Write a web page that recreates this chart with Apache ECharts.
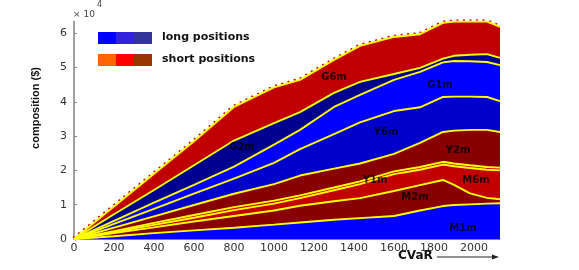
<!DOCTYPE html>
<html>
<head>
<meta charset="utf-8">
<script src="https://cdn.jsdelivr.net/npm/echarts@6/dist/echarts.min.js"></script>
<style>
html,body{margin:0;padding:0;background:#fff;}
#chart{width:579px;height:270px;}
</style>
</head>
<body>
<div id="chart"></div>
<script>
// CVaR sample points (x axis)
var cvar = [0, 200, 400, 600, 800, 1000, 1130, 1300, 1430, 1600, 1730, 1845, 1900, 1980, 2065, 2130];
// cumulative upper boundary of each layer (composition, $)
var topM1m = [0, 800, 1700, 2500, 3300, 4200, 4800, 5600, 6100, 6700, 8300, 9600, 9900, 10100, 10300, 10400];
var topM2m = [0, 1700, 3400, 5100, 6700, 8300, 9700, 11000, 11900, 14000, 15700, 17200, 15800, 13300, 12000, 11600];
var topM6m = [0, 2000, 4100, 6200, 8400, 10300, 11900, 14200, 16000, 18900, 20200, 21700, 21200, 20700, 20200, 20000];
var topY1m = [0, 2300, 4700, 7000, 9300, 11200, 12700, 15000, 16800, 19700, 21000, 22500, 22000, 21500, 21000, 20800];
var topY2m = [0, 3300, 6600, 9900, 13200, 16000, 18500, 20500, 22000, 24800, 28000, 31200, 31600, 31800, 31800, 31200];
var topY6m = [0, 4400, 8800, 13200, 17600, 22200, 26200, 30600, 34000, 37300, 38400, 41400, 41500, 41500, 41400, 40200];
var topG1m = [0, 5300, 10600, 15800, 21100, 27500, 31800, 38500, 42000, 46400, 48700, 51500, 51900, 51800, 51600, 50700];
var topG2m = [0, 7200, 14300, 21500, 28700, 33800, 37000, 42600, 45800, 48100, 49900, 52600, 53400, 53700, 53900, 52800];
var topG6m = [0, 9500, 19000, 28500, 38500, 44200, 46400, 52200, 56300, 58900, 59700, 63000, 63400, 63400, 63400, 61800];

var layerNames = ['G6m', 'G2m', 'G1m', 'Y6m', 'Y2m', 'Y1m', 'M6m', 'M2m', 'M1m'];
var layerTops = [topG6m, topG2m, topG1m, topY6m, topY2m, topY1m, topM6m, topM2m, topM1m];
var layerColors = ['#c00000', '#00008f', '#0000ff', '#0000cc', '#880000', '#cc0000', '#c20000', '#880000', '#0000ff'];

// in-chart labels (data coordinates)
var labelText = ['G6m', 'G1m', 'Y6m', 'G2m', 'Y2m', 'Y1m', 'M6m', 'M2m', 'M1m'];
var labelX = [1300, 1830, 1560, 840, 1920, 1505, 2010, 1705, 1945];
var labelY = [47200, 44900, 31200, 26800, 25900, 17200, 17200, 12000, 3200];

// axis ticks
var xTickStep = 200, xMax = 2130;
var yTickStep = 10000, yMax = 63400;

var chart = echarts.init(document.getElementById('chart'), null, {renderer: 'canvas'});

function pairs(arr) { return cvar.map(function (x, i) { return [x, arr[i]]; }); }

var series = [];
// red dotted edge along the top boundary
series.push({
  type: 'line', name: 'edge', data: pairs(topG6m), symbol: 'none', z: 1,
  lineStyle: {color: '#cc0000', width: 4.5, type: [2, 4.5]}, silent: true
});
layerNames.forEach(function (n, i) {
  series.push({
    type: 'line', name: n, data: pairs(layerTops[i]), symbol: 'none', z: 2 + i,
    lineStyle: {color: '#ffff00', width: 1.9},
    areaStyle: {color: layerColors[i], opacity: 1},
    silent: true
  });
});
series.push({
  type: 'scatter', name: 'labels', z: 30, symbolSize: 1,
  itemStyle: {color: 'rgba(0,0,0,0)'},
  data: labelText.map(function (t, i) { return {value: [labelX[i], labelY[i]], name: t}; }),
  label: {show: true, position: 'inside', formatter: '{b}', color: '#000',
          fontFamily: 'DejaVu Sans', fontWeight: 'bold', fontSize: 10},
  silent: true
});

var legendLong = ['#0000ff', '#3322dd', '#333399'];
var legendShort = ['#ff6600', '#ff0000', '#993300'];
var graphics = [];
legendLong.forEach(function (c, i) {
  graphics.push({type: 'rect', left: 98 + 18 * i, top: 32, shape: {width: 18, height: 12}, style: {fill: c}});
});
legendShort.forEach(function (c, i) {
  graphics.push({type: 'rect', left: 98 + 18 * i, top: 54, shape: {width: 18, height: 12}, style: {fill: c}});
});
graphics.push({type: 'text', left: 162, top: 32, style: {text: 'long positions', font: 'bold 11px "DejaVu Sans"', fill: '#111'}});
graphics.push({type: 'text', left: 162, top: 54, style: {text: 'short positions', font: 'bold 11px "DejaVu Sans"', fill: '#111'}});
graphics.push({type: 'text', left: 73, top: 10, style: {text: '\u00d7 10', font: '9px "DejaVu Sans"', fill: '#444'}});
graphics.push({type: 'text', left: 97, top: 1, style: {text: '4', font: '8px "DejaVu Sans"', fill: '#444'}});
graphics.push({type: 'text', x: 36, y: 108, rotation: Math.PI / 2,
  style: {text: 'composition ($)', font: 'bold 11px "Liberation Sans"', fill: '#111', align: 'center', verticalAlign: 'middle'}});
graphics.push({type: 'text', left: 398, top: 250, style: {text: 'CVaR', font: 'bold 12px "DejaVu Sans"', fill: '#111'}});
graphics.push({type: 'line', shape: {x1: 437, y1: 257, x2: 494, y2: 257}, style: {stroke: '#222', lineWidth: 1}});
graphics.push({type: 'polygon', shape: {points: [[499, 257], [492, 254.5], [492, 259.5]]}, style: {fill: '#222'}});

chart.setOption({
  animation: false,
  backgroundColor: '#fff',
  grid: {left: 74, right: 79, top: 21.5, bottom: 31, containLabel: false},
  xAxis: {
    type: 'value', min: 0, max: xMax, interval: xTickStep,
    axisLine: {show: true, lineStyle: {color: '#808080', width: 1}},
    axisTick: {show: true, inside: true, length: 3, lineStyle: {color: '#808080'}},
    axisLabel: {color: '#333', fontFamily: 'DejaVu Sans', fontSize: 11, margin: 4, showMaxLabel: false,
                formatter: function (v) { return String(v); }},
    splitLine: {show: false}
  },
  yAxis: {
    type: 'value', min: 0, max: yMax, interval: yTickStep,
    axisLine: {show: true, lineStyle: {color: '#808080', width: 1.5}},
    axisTick: {show: true, inside: true, length: 3, lineStyle: {color: '#808080'}},
    axisLabel: {color: '#333', fontFamily: 'DejaVu Sans', fontSize: 11, margin: 7, showMaxLabel: false,
                formatter: function (v) { return String(v / 10000); }},
    splitLine: {show: false}
  },
  graphic: graphics,
  series: series
});
</script>
</body>
</html>
